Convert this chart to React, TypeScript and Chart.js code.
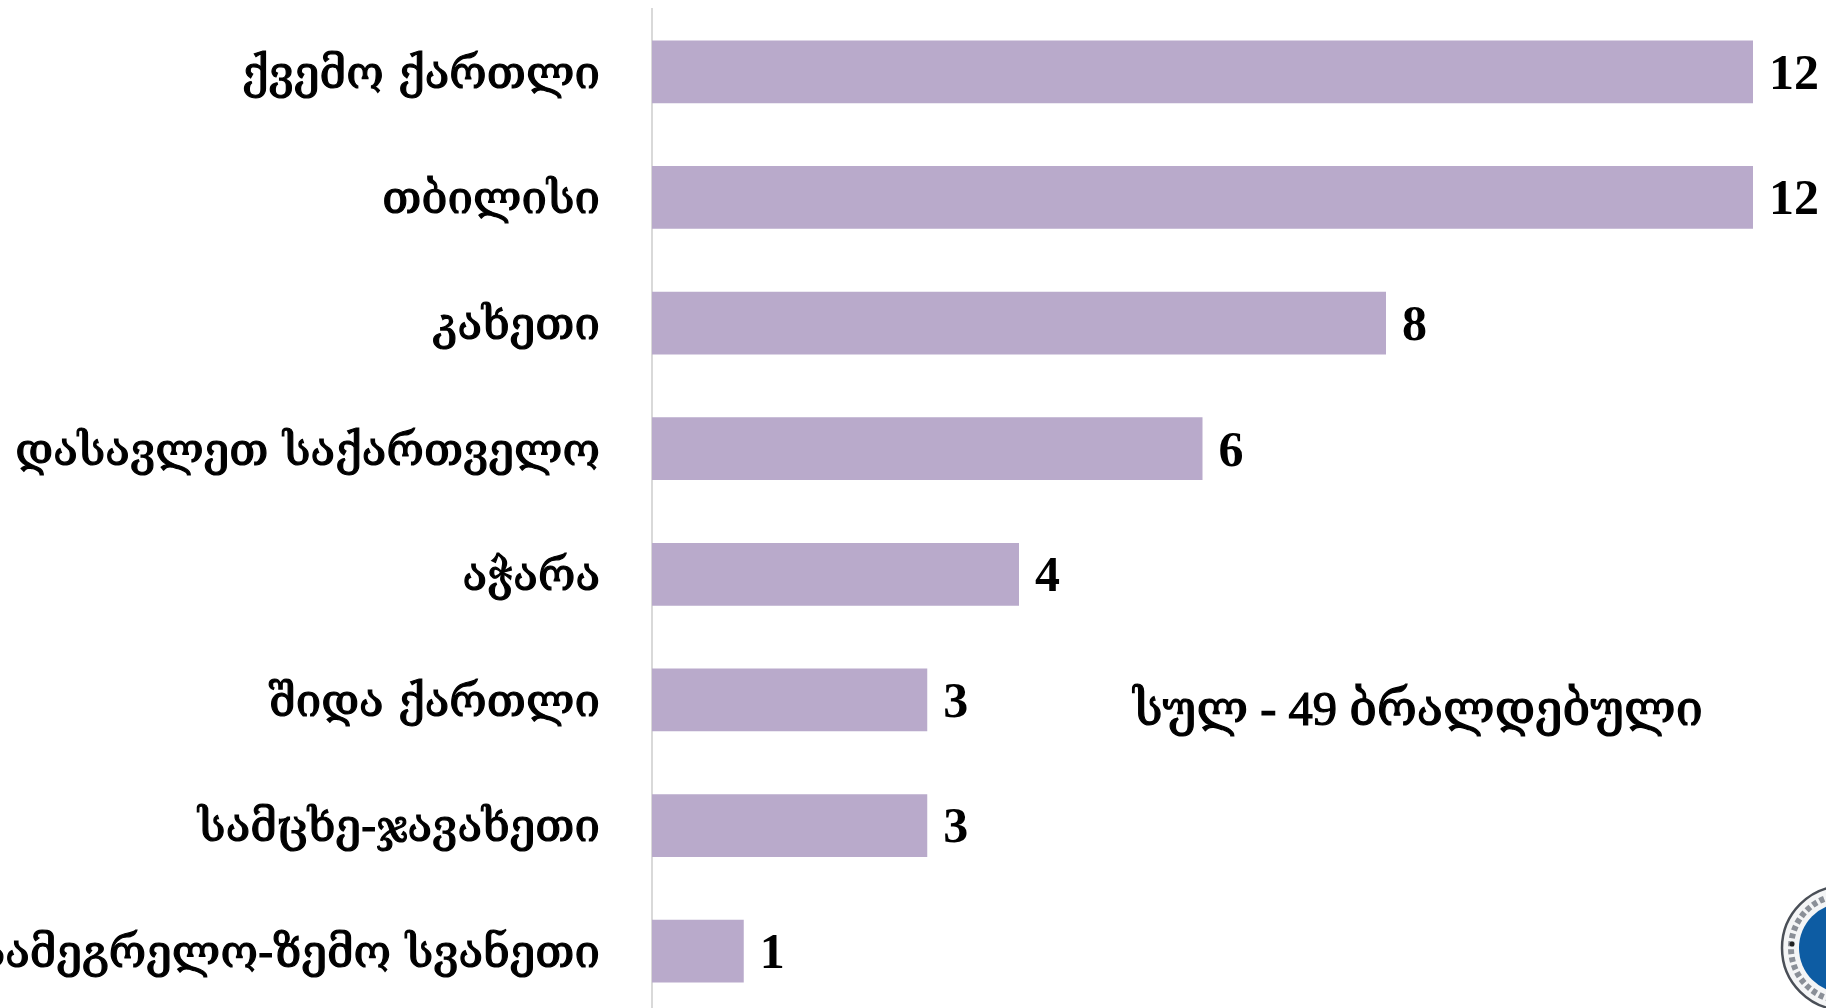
import React, { useEffect, useRef } from "react";
import { Chart, registerables } from "chart.js";
Chart.register(...registerables);

const categories = ["ქვემო ქართლი","თბილისი","კახეთი","დასავლეთ საქართველო","აჭარა","შიდა ქართლი","სამცხე-ჯავახეთი","სამეგრელო-ზემო სვანეთი"];
const values = [12,12,8,6,4,3,3,1];
const noteText = "სულ - 49 ბრალდებული";
const FONT = '"DejaVu Serif", serif';
const NUM_FONT = '"Liberation Serif", "DejaVu Serif", serif';

export default function App() {
  const ref = useRef<HTMLCanvasElement>(null);
  useEffect(() => {
    document.body.style.margin = "0";
    document.body.style.background = "#fff";
    const labelsPlugin = {
      id: "valueLabels",
      afterDatasetsDraw(chart: any) {
        const { ctx } = chart;
        const meta = chart.getDatasetMeta(0);
        ctx.save();
        ctx.font = `bold 50px ${NUM_FONT}`;
        ctx.fillStyle = "#000";
        ctx.strokeStyle = "#000";
        ctx.textBaseline = "middle";
        ctx.textAlign = "left";
        meta.data.forEach((el: any, i: number) => {
          ctx.fillText(String(values[i]), el.x + 16, el.y + 4);
        });
        ctx.font = `48.5px ${NUM_FONT}`;
        ctx.lineWidth = 1.2;
        ctx.textAlign = "center";
        ctx.fillText(noteText, 1418, 712);
        ctx.strokeText(noteText, 1418, 712);
        // seal, cut by the right edge
        const cx = 1844, cy = 948;
        ctx.beginPath(); ctx.arc(cx, cy, 62, 0, Math.PI * 2);
        ctx.fillStyle = "#f4f5f6"; ctx.fill();
        ctx.strokeStyle = "#4a4f57"; ctx.lineWidth = 2.5; ctx.stroke();
        ctx.beginPath(); ctx.arc(cx, cy, 53, 0, Math.PI * 2);
        ctx.setLineDash([5, 3]); ctx.strokeStyle = "#8a8f97"; ctx.lineWidth = 6; ctx.stroke();
        ctx.setLineDash([]);
        ctx.beginPath(); ctx.arc(cx, cy, 45, 0, Math.PI * 2);
        ctx.fillStyle = "#0d5ca3"; ctx.fill();
        ctx.beginPath(); ctx.arc(1792, 944, 2.5, 0, Math.PI * 2);
        ctx.fillStyle = "#222"; ctx.fill();
        ctx.restore();
      },
    };
    const c = new Chart(ref.current!, {
      type: "bar",
      data: { labels: categories, datasets: [{ data: values, backgroundColor: "#b9aacb", barPercentage: 0.5, categoryPercentage: 1 }] },
      options: {
        indexAxis: "y", animation: false, responsive: false,
        layout: { padding: { top: 9, bottom: 0, left: 0, right: 73 } },
        plugins: { legend: { display: false }, tooltip: { enabled: false } },
        scales: {
          x: { display: false, min: 0, max: 12 },
          y: {
            afterFit(s: any) { s.width = 652; s.paddingTop = 0; s.paddingBottom = 0; },
            afterUpdate(s: any) {
              const orig = s.getLabelItems.bind(s);
              s.getLabelItems = (area: any) => orig(area).map((it: any) => ({ ...it, textOffset: it.textOffset + 4 }));
            },
            grid: { display: false }, border: { color: "#d9d9d9", width: 2 },
            ticks: { color: "#000", font: { size: 45.5, family: FONT }, padding: 44, autoSkip: false, textStrokeColor: "#000", textStrokeWidth: 1.2 },
          },
        },
      },
      plugins: [labelsPlugin],
    });
    return () => c.destroy();
  }, []);
  return <div style={{ width: 1826, height: 1008, overflow: "hidden" }}><canvas ref={ref} width={1826} height={1014} style={{ display: "block" }} /></div>;
}
